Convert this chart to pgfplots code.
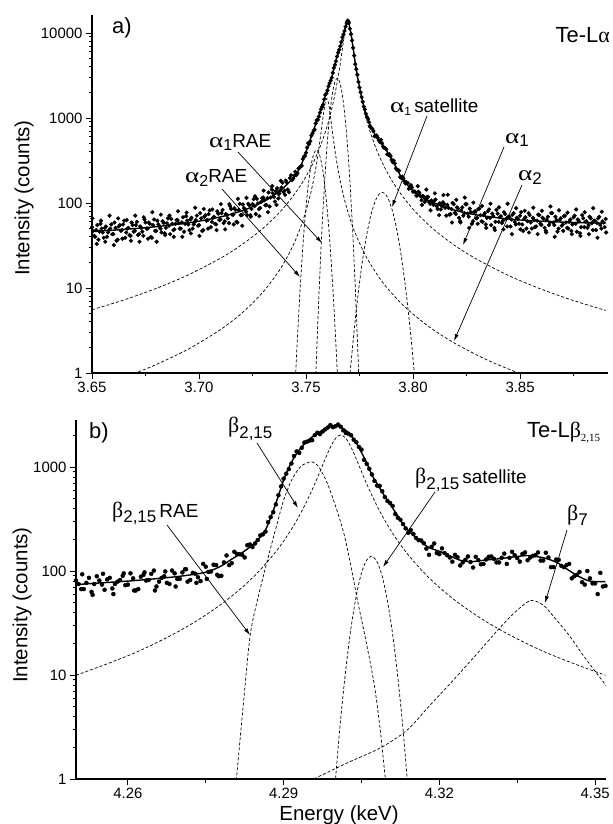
\documentclass[border=0pt]{standalone}
\usepackage{fontspec}
\setmainfont{Liberation Sans}
\newfontfamily\grk{Liberation Serif}
\usepackage{graphicx}
\usepackage{pgfplots}
\pgfplotsset{compat=1.18}
\usetikzlibrary{arrows.meta}
\newcommand{\fs}[1]{\fontsize{#1}{#1}\selectfont}
\newcommand{\lo}[2]{\raisebox{-#1}{#2}}
\newcommand{\al}{\scalebox{1.3}[1]{\fs{21}\grk α}}
\newcommand{\be}{{\fs{22}\grk β}}
\begin{document}
\begin{tikzpicture}[x=1bp,y=1bp]
\useasboundingbox (0,0) rectangle (613,-824);
% ---------------- panel a ----------------
\begin{axis}[scale only axis, ymode=log,
 axis x line=bottom, axis y line=left,
 axis line style={-, line width=1.1bp},
 tick align=outside, major tick length=6bp, minor tick length=3.5bp,
 tick style={line width=0.9bp, black},
 tick label style={font=\fs{15}},
 at={(92bp,-373bp)}, anchor=south west, width=516bp, height=358bp,
 xmin=3.65, xmax=3.8911, ymin=1, ymax=16285,
 xtick={3.65,3.70,3.75,3.80,3.85}, xticklabels={3.65,3.70,3.75,3.80,3.85},
 minor xtick={3.675,3.725,3.775,3.825,3.875},
 ytick={1,10,100,1000,10000}, yticklabels={1,10,100,1000,10000},
 minor ytick={2,3,4,5,6,7,8,9,20,30,40,50,60,70,80,90,200,300,400,500,600,700,800,900,2000,3000,4000,5000,6000,7000,8000,9000}]
% fit
\addplot[black, line width=1.4bp, smooth] coordinates {(3.650,46.2)(3.660,47.9)(3.670,50.0)(3.680,52.7)(3.690,56.2)(3.700,61.1)(3.710,68.6)(3.715,74)(3.720,80.9)(3.725,90.3)(3.730,103.6)(3.734,118.8)(3.738,140.6)(3.741,164)(3.744,198)(3.746,231)(3.748,290)(3.750,400)(3.752,560)(3.754,780)(3.756,1050)(3.758,1500)(3.760,2150)(3.762,3000)(3.764,4800)(3.766,7000)(3.768,10800)(3.7695,14000)(3.771,9900)(3.772,6670)(3.773,4456)(3.774,3117)(3.776,1737)(3.778,1121)(3.780,815)(3.783,597)(3.786,476)(3.790,329)(3.795,194)(3.801,132)(3.809,102)(3.819,83)(3.829,73)(3.844,65)(3.859,61.2)(3.874,59.1)(3.890,57.9)};
% data
\addplot[only marks, mark=*, mark size=1.9bp, black] coordinates {
(3.650,52)(3.651,41)(3.652,48)(3.653,37)(3.654,57)(3.655,45)(3.656,51)(3.657,40)(3.658,48)(3.659,56)(3.660,43)(3.661,51)(3.662,37)(3.663,55)(3.664,48)(3.665,62)(3.666,45)(3.667,51)(3.668,41)(3.669,55)(3.670,47)(3.671,60)(3.672,43)(3.673,51)(3.674,41)(3.675,59)(3.676,50)(3.677,57)(3.678,39)(3.679,64)(3.680,47)(3.681,56)(3.682,50)(3.683,61)(3.684,44)(3.685,58)(3.686,54)(3.687,65)(3.688,48)(3.689,57)(3.690,63)(3.691,50)(3.692,59)(3.693,46)(3.694,70)(3.695,56)(3.696,64)(3.697,50)(3.698,60)(3.699,71)(3.700,55)(3.701,66)(3.702,48)(3.703,72)(3.704,63)(3.705,82)(3.706,60)(3.707,69)(3.708,56)(3.709,75)(3.710,64)(3.711,83)(3.712,61)(3.713,72)(3.714,58)(3.715,85)(3.716,73)(3.717,83)(3.718,59)(3.719,98)(3.720,72)(3.721,87)(3.722,79)(3.723,98)(3.724,72)(3.725,97)(3.726,92)(3.727,112)(3.728,85)(3.729,103)(3.730,116)(3.731,94)(3.732,114)(3.733,91)(3.734,144)(3.735,118)(3.736,139)(3.737,113)(3.738,141)(3.739,173)(3.740,140)(3.741,174)(3.742,134)(3.743,212)(3.744,194)(3.745,233)(3.746,224)(3.747,261)(3.748,274)(3.749,351)(3.750,391)(3.751,505)(3.752,534)(3.753,662)(3.754,728)(3.755,945)(3.756,1040)(3.757,1269)(3.758,1437)(3.759,1869)(3.760,2111)(3.761,2570)(3.762,2970)(3.763,3883)(3.764,4656)(3.765,5869)(3.766,6986)(3.767,8961)(3.768,10562)(3.769,13039)(3.7695,14000)(3.770,13158)(3.771,9702)(3.772,6703)(3.773,4300)(3.774,3226)(3.775,2282)(3.776,1760)(3.777,1362)(3.778,1121)(3.779,977)(3.780,801)(3.781,745)(3.782,609)(3.783,625)(3.784,546)(3.785,554)(3.786,462)(3.787,441)(3.788,374)(3.789,374)(3.790,321)(3.791,316)(3.792,255)(3.793,243)(3.794,202)(3.795,204)(3.796,180)(3.797,175)(3.798,147)(3.799,162)(3.800,136)
(3.801,135)(3.802,123)(3.803,131)(3.804,108)(3.805,119)(3.806,110)(3.807,118)(3.808,98)(3.809,103)(3.810,106)(3.811,92)(3.812,97)(3.813,84)(3.814,102)(3.815,88)(3.816,95)(3.817,73)(3.818,85)(3.819,97)(3.820,74)(3.821,86)(3.822,61)(3.823,89)(3.824,76)(3.825,97)(3.826,69)(3.827,78)(3.828,61)(3.829,80)(3.830,67)(3.831,86)(3.832,61)(3.833,72)(3.834,56)(3.835,80)(3.836,67)(3.837,75)(3.838,51)(3.839,83)(3.840,60)(3.841,70)(3.842,62)(3.843,74)(3.844,53)(3.845,69)(3.846,64)(3.847,76)(3.848,56)(3.849,65)(3.850,71)(3.851,56)(3.852,65)(3.853,50)(3.854,76)(3.855,59)(3.856,67)(3.857,52)(3.858,62)(3.859,72)(3.860,55)(3.861,65)(3.862,47)(3.863,69)(3.864,59)(3.865,76)(3.866,55)(3.867,63)(3.868,50)(3.869,66)(3.870,56)(3.871,71)(3.872,51)(3.873,60)(3.874,47)(3.875,68)(3.876,57)(3.877,64)(3.878,44)(3.879,72)(3.880,52)(3.881,61)(3.882,55)(3.883,66)(3.884,48)(3.885,62)(3.886,58)(3.887,69)(3.888,50)(3.889,59)(3.890,65)
(3.6505,47)(3.6515,40)(3.6525,55)(3.6535,46)(3.6545,50)(3.6555,39)(3.6565,53)(3.6575,45)(3.6585,50)(3.6595,43)(3.6605,59)(3.6615,36)(3.6625,53)(3.6635,47)(3.6645,56)(3.6655,39)(3.6665,50)(3.6675,42)(3.6685,59)(3.6695,46)(3.6705,55)(3.6715,42)(3.6725,53)(3.6735,46)(3.6745,64)(3.6755,50)(3.6765,59)(3.6775,40)(3.6785,55)(3.6795,47)(3.6805,62)(3.6815,53)(3.6825,45)(3.6835,58)(3.6845,51)(3.6855,66)(3.6865,43)(3.6875,57)(3.6885,49)(3.6895,63)(3.6905,58)(3.6915,50)(3.6925,68)(3.6935,57)(3.6945,62)(3.6955,48)(3.6965,67)(3.6975,56)(3.6985,63)(3.6995,54)(3.7005,76)(3.7015,47)(3.7025,69)(3.7035,62)(3.7045,74)(3.7055,52)(3.7065,67)(3.7075,57)(3.7085,80)(3.7095,63)(3.7105,76)(3.7115,58)(3.7125,74)(3.7135,66)(3.7145,92)(3.7155,73)(3.7165,87)(3.7175,60)(3.7185,83)(3.7195,72)(3.7205,96)(3.7215,84)(3.7225,72)(3.7235,94)(3.7245,85)(3.7255,111)(3.7265,74)(3.7275,99)(3.7285,87)(3.7295,114)(3.7305,108)(3.7315,95)(3.7325,133)(3.7335,116)(3.7345,130)(3.7355,104)(3.7365,149)(3.7375,129)(3.7385,152)(3.7395,135)(3.7405,184)(3.7415,144)(3.7425,196)(3.7435,186)
(3.7445,210)(3.7455,213)(3.7465,254)(3.7475,268)(3.7485,330)(3.7495,358)(3.7505,449)(3.7515,495)(3.7525,620)(3.7535,703)(3.7545,863)(3.7555,953)(3.7565,1157)(3.7575,1355)(3.7585,1660)(3.7595,1947)(3.7605,2365)(3.7615,2750)(3.7625,3400)(3.7635,4230)(3.7645,5300)(3.7655,6340)(3.7665,7850)(3.7675,9650)(3.7685,11900)(3.7692,13500)(3.7698,13700)(3.7705,11250)(3.7715,8170)(3.7725,5430)(3.7735,3750)(3.7745,2660)(3.7755,2010)(3.7765,1550)(3.7775,1262)(3.7785,1025)(3.7795,888)(3.7805,765)(3.7815,702)(3.7825,615)(3.7835,585)(3.7845,520)(3.7855,503)(3.7865,446)(3.7875,428)(3.7885,370)(3.7895,356)(3.7905,302)(3.7915,293)(3.7925,246)(3.7935,240)(3.7945,197)(3.7955,195)(3.7965,170)(3.7975,172)(3.7985,149)(3.7995,152)
(3.8005,137)(3.8015,122)(3.8025,136)(3.8035,120)(3.8045,121)(3.8055,103)(3.8065,117)(3.8075,103)(3.8085,107)(3.8095,95)(3.8105,110)(3.8115,85)(3.8125,99)(3.8135,92)(3.8145,98)(3.8155,71)(3.8165,88)(3.8175,74)(3.8185,100)(3.8195,77)(3.8205,89)(3.8215,67)(3.8225,82)(3.8235,71)(3.8245,97)(3.8255,75)(3.8265,86)(3.8275,57)(3.8285,78)(3.8295,66)(3.8305,85)(3.8315,72)(3.8325,60)(3.8335,76)(3.8345,67)(3.8355,84)(3.8365,55)(3.8375,70)(3.8385,60)(3.8395,75)(3.8405,68)(3.8415,58)(3.8425,78)(3.8435,65)(3.8445,69)(3.8455,53)(3.8465,73)(3.8475,60)(3.8485,67)(3.8495,57)(3.8505,78)(3.8515,47)(3.8525,68)(3.8535,61)(3.8545,72)(3.8555,50)(3.8565,63)(3.8575,53)(3.8585,73)(3.8595,57)(3.8605,67)(3.8615,51)(3.8625,63)(3.8635,55)(3.8645,76)(3.8655,59)(3.8665,69)(3.8675,46)(3.8685,63)(3.8695,54)(3.8705,70)(3.8715,59)(3.8725,50)(3.8735,64)(3.8745,56)(3.8755,71)(3.8765,46)(3.8775,61)(3.8785,52)(3.8795,66)(3.8805,60)(3.8815,51)(3.8825,69)(3.8835,58)(3.8845,62)(3.8855,48)(3.8865,66)(3.8875,55)(3.8885,61)(3.8895,52)
(3.6502,66)(3.6522,33)(3.6542,62)(3.6562,35)(3.6582,71)(3.6602,32)(3.6622,66)(3.6642,38)(3.6662,63)(3.6682,36)(3.6702,71)(3.6722,35)(3.6742,68)(3.6762,38)(3.6782,78)(3.6802,35)(3.6822,73)(3.6842,42)(3.6862,71)(3.6882,40)(3.6902,80)(3.6922,40)(3.6942,77)(3.6962,44)(3.6982,88)(3.7002,41)(3.7022,85)(3.7042,50)(3.7062,84)(3.7082,48)(3.7102,97)(3.7122,49)(3.7142,97)(3.7162,56)(3.7182,112)(3.7202,54)(3.7222,115)(3.7242,69)(3.7262,120)(3.7282,70)(3.7302,140)(3.7322,78)(3.7342,158)(3.7362,95)(3.7382,183)(3.7402,125)
(3.8022,158)(3.8042,95)(3.8062,144)(3.8082,82)(3.8102,130)(3.8122,72)(3.8142,124)(3.8162,125)(3.8182,59)(3.8202,109)(3.8222,59)(3.8242,116)(3.8262,51)(3.8282,101)(3.8302,57)(3.8322,92)(3.8342,51)(3.8362,98)(3.8382,48)(3.8402,89)(3.8422,49)(3.8442,98)(3.8462,43)(3.8482,87)(3.8502,49)(3.8522,81)(3.8542,45)(3.8562,88)(3.8582,43)(3.8602,81)(3.8622,45)(3.8642,91)(3.8662,40)(3.8682,82)(3.8702,47)(3.8722,77)(3.8742,43)(3.8762,84)(3.8782,41)(3.8802,78)(3.8822,43)(3.8842,87)(3.8862,39)(3.8882,79)(3.8902,45)};
% components
\addplot[black, line width=0.7bp, dash pattern=on 3bp off 2bp, smooth] coordinates {(3.650,5.55)(3.665,7.25)(3.680,9.89)(3.695,14.27)(3.710,22.4)(3.720,32.3)(3.730,50.6)(3.738,79.4)(3.744,121)(3.749,186)(3.753,285)(3.756,421)(3.759,682)(3.761,1013)(3.763,1643)(3.765,3023)(3.766,4352)(3.767,6535)(3.768,9754)(3.769,12941)(3.7695,13492)(3.770,12941)(3.771,9754)(3.772,6535)(3.773,4352)(3.774,3023)(3.776,1643)(3.778,1013)(3.780,682)(3.783,421)(3.786,285)(3.790,186)(3.795,121)(3.801,79.4)(3.809,50.6)(3.819,32.3)(3.829,22.4)(3.844,14.27)(3.859,9.89)(3.874,7.25)(3.890,5.45)};
\addplot[black, line width=0.7bp, dash pattern=on 3bp off 2bp, smooth] coordinates {(3.665,0.892)(3.672,1.04)(3.680,1.258)(3.695,1.91)(3.710,3.24)(3.720,5.06)(3.730,9.02)(3.738,16.8)(3.744,31.8)(3.748,56.5)(3.751,99.5)(3.753,161)(3.755,299)(3.757,667)(3.758,1054)(3.759,1541)(3.7597,1700)(3.7605,1498)(3.7615,1008)(3.763,513)(3.765,244)(3.768,109)(3.772,51.3)(3.778,23.6)(3.786,11.5)(3.796,6.05)(3.808,3.43)(3.820,2.20)(3.835,1.41)(3.851,0.96)(3.860,0.795)};
\addplot[black, line width=0.7bp, dash pattern=on 3bp off 2bp, smooth] coordinates {(3.7541,0.43)(3.7546,0.98)(3.7556,4.49)(3.7566,17.5)(3.7576,58)(3.7586,164)(3.7596,397)(3.7606,815)(3.7616,1426)(3.7626,2128)(3.7636,2705)(3.7646,2930)(3.7656,2705)(3.7666,2128)(3.7676,1426)(3.7686,815)(3.7696,397)(3.7706,164)(3.7716,58)(3.7726,17.5)(3.7736,4.49)(3.7746,0.98)(3.7751,0.43)};
\addplot[black, line width=0.7bp, dash pattern=on 3bp off 2bp, smooth] coordinates {(3.7449,0.68)(3.7454,1.28)(3.7459,2.31)(3.7469,6.9)(3.7479,18.1)(3.7489,41.7)(3.7499,84.4)(3.7509,150)(3.7519,236)(3.7529,325)(3.7539,394)(3.7549,420)(3.7559,394)(3.7569,325)(3.7579,236)(3.7589,150)(3.7599,84.4)(3.7609,41.7)(3.7619,18.1)(3.7629,6.9)(3.7639,2.31)(3.7644,1.28)(3.7649,0.68)};
\addplot[black, line width=0.7bp, dash pattern=on 3bp off 2bp, smooth] coordinates {(3.7696,0.51)(3.7706,1.0)(3.7726,3.38)(3.7746,9.6)(3.7766,22.9)(3.7786,45.8)(3.7806,77.3)(3.7826,109)(3.7841,127)(3.7856,133)(3.7871,127)(3.7886,109)(3.7906,77.3)(3.7926,45.8)(3.7946,22.9)(3.7966,9.6)(3.7986,3.38)(3.8006,1.0)(3.8016,0.51)};
\end{axis}
% ---------------- panel b ----------------
\begin{axis}[scale only axis, ymode=log,
 axis x line=bottom, axis y line=left,
 axis line style={-, line width=1.1bp},
 tick align=outside, major tick length=6bp, minor tick length=3.5bp,
 tick style={line width=0.9bp, black},
 tick label style={font=\fs{15}},
 at={(76bp,-779bp)}, anchor=south west, width=530bp, height=359bp,
 xmin=4.25, xmax=4.3521, ymin=1, ymax=2831,
 xtick={4.26,4.29,4.32,4.35}, xticklabels={4.26,4.29,4.32,4.35},
 minor xtick={4.275,4.305,4.335},
 ytick={1,10,100,1000}, yticklabels={1,10,100,1000},
 minor ytick={2,3,4,5,6,7,8,9,20,30,40,50,60,70,80,90,200,300,400,500,600,700,800,900,2000}]
\addplot[only marks, mark=*, mark size=2bp, black] coordinates {
(4.250,81)(4.251,67)(4.252,77)(4.253,63)(4.254,89)(4.255,74)(4.256,83)(4.257,68)(4.258,79)(4.259,90)(4.260,74)(4.261,85)(4.262,67)(4.263,92)(4.264,82)(4.265,101)(4.266,79)(4.267,89)(4.268,75)(4.269,95)(4.270,84)(4.271,104)(4.272,82)(4.273,94)(4.274,80)(4.275,110)(4.276,99)(4.277,114)(4.278,90)(4.279,141)(4.280,119)(4.281,146)(4.282,143)(4.283,177)(4.284,170)(4.285,198)(4.286,225)(4.287,295)(4.288,368)(4.289,535)(4.290,773)(4.291,954)(4.292,1275)(4.293,1367)(4.294,1719)(4.295,1793)(4.296,2023)(4.297,2072)(4.298,2300)(4.299,2534)(4.300,2467)(4.301,2436)(4.302,2120)(4.303,2018)(4.304,1731)(4.305,1470)(4.306,1072)(4.307,848)(4.308,663)(4.309,585)(4.310,471)(4.311,422)(4.312,325)(4.313,283)(4.314,233)(4.315,227)(4.316,198)(4.317,185)(4.318,143)(4.319,184)(4.320,145)(4.321,149)(4.322,135)(4.323,143)(4.324,113)(4.325,128)(4.326,122)(4.327,137)(4.328,116)(4.329,129)(4.330,138)(4.331,121)(4.332,134)(4.333,117)(4.334,153)(4.335,133)(4.336,146)(4.337,127)(4.338,140)(4.339,151)(4.340,126)(4.341,135)(4.342,109)(4.343,128)(4.344,109)(4.345,117)(4.346,89)(4.347,98)(4.348,74)(4.349,85)(4.350,76)(4.351,96)(4.352,72)
(4.2505,75)(4.2515,67)(4.2525,86)(4.2535,75)(4.2545,81)(4.2555,66)(4.2565,86)(4.2575,75)(4.2585,82)(4.2595,73)(4.2605,95)(4.2615,65)(4.2625,88)(4.2635,81)(4.2645,94)(4.2655,71)(4.2665,86)(4.2675,77)(4.2685,101)(4.2695,84)(4.2705,97)(4.2715,79)(4.2725,96)(4.2735,87)(4.2745,117)(4.2755,98)(4.2765,115)(4.2775,89)(4.2785,121)(4.2795,114)(4.2805,153)(4.2815,145)(4.2825,135)(4.2835,180)(4.2845,184)(4.2855,220)(4.2865,239)(4.2875,330)(4.2885,437)(4.2895,651)(4.2905,863)(4.2915,1081)(4.2925,1411)(4.2935,1532)(4.2945,1753)(4.2955,1812)(4.2965,2137)(4.2975,2195)(4.2985,2396)(4.2995,2413)(4.3005,2560)(4.3015,2250)(4.3025,2090)(4.3035,1829)(4.3045,1560)(4.3055,1169)(4.3065,962)(4.3075,735)(4.3085,659)(4.3095,514)(4.3105,451)(4.3115,353)(4.3125,311)(4.3135,257)(4.3145,247)(4.3155,208)(4.3165,197)(4.3175,164)(4.3185,171)(4.3195,149)(4.3205,165)(4.3215,142)(4.3225,123)(4.3235,136)(4.3245,121)(4.3255,138)(4.3265,108)(4.3275,127)(4.3285,117)(4.3295,137)(4.3305,131)(4.3315,121)(4.3325,147)(4.3335,134)(4.3345,142)(4.3355,123)(4.3365,151)(4.3375,135)(4.3385,142)(4.3395,126)(4.3405,150)(4.3415,109)(4.3425,129)(4.3435,112)(4.3445,114)(4.3455,85)(4.3465,92)(4.3475,78)(4.3485,100)(4.3495,76)(4.3505,60)(4.3515,71)
(4.2512,93)(4.2532,59)(4.2552,94)(4.2572,60)(4.2592,95)(4.2612,65)(4.2632,97)(4.2652,65)(4.2672,99)(4.2692,71)(4.2712,104)(4.2732,77)(4.2752,84)(4.2772,92)};
\addplot[black, line width=1.4bp, smooth] coordinates {(4.250,74)(4.255,77)(4.260,80)(4.265,84)(4.270,89)(4.274,95)(4.276,101)(4.278,112)(4.280,130)(4.282,150)(4.284,178)(4.286,225)(4.287,282)(4.288,380)(4.289,532)(4.290,750)(4.291,990)(4.292,1230)(4.293,1460)(4.294,1670)(4.295,1860)(4.296,2030)(4.297,2180)(4.298,2310)(4.299,2430)(4.300,2510)(4.301,2420)(4.302,2250)(4.303,2000)(4.304,1700)(4.305,1380)(4.306,1096)(4.307,840)(4.308,692)(4.309,571)(4.310,479)(4.311,403)(4.312,337)(4.313,282)(4.314,245)(4.316,199)(4.318,168)(4.320,155)(4.322,140)(4.324,127)(4.326,123)(4.328,126)(4.330,129)(4.332,132)(4.334,136)(4.337,141)(4.339,137)(4.341,130)(4.343,118)(4.345,101)(4.347,88)(4.349,80)(4.352,79)};
\addplot[black, line width=0.7bp, dash pattern=on 3bp off 2bp, smooth] coordinates {(4.250,9.95)(4.256,12.8)(4.262,16.9)(4.268,23.6)(4.273,32.6)(4.278,48.0)(4.282,69.5)(4.285,96.7)(4.288,143)(4.290,194)(4.292,277)(4.294,421)(4.296,688)(4.298,1193)(4.299,1548)(4.300,1884)(4.301,2031)(4.302,1884)(4.303,1548)(4.304,1193)(4.306,688)(4.308,421)(4.310,277)(4.312,194)(4.314,143)(4.317,96.7)(4.320,69.5)(4.324,48.0)(4.329,32.6)(4.334,23.6)(4.340,16.9)(4.346,12.8)(4.352,9.95)};
\addplot[black, line width=0.7bp, dash pattern=on 3bp off 2bp, smooth] coordinates {(4.2805,0.7)(4.2809,1.0)(4.2822,5)(4.2836,25)(4.2855,68)(4.2874,160)(4.2887,280)(4.2900,480)(4.2916,760)(4.2932,1000)(4.2944,1090)(4.2955,1120)(4.2968,1000)(4.2984,700)(4.3000,420)(4.3016,230)(4.3029,115)(4.3042,53)(4.3058,22)(4.3074,8.4)(4.3085,3.3)(4.3096,1.0)(4.3100,0.7)};
\addplot[black, line width=0.7bp, dash pattern=on 3bp off 2bp, smooth] coordinates {(4.2998,0.65)(4.3000,1.0)(4.3009,3.4)(4.3019,10.5)(4.3029,26.7)(4.3039,54.9)(4.3049,92)(4.3059,125)(4.3069,139)(4.3079,125)(4.3089,92)(4.3099,54.9)(4.3109,26.7)(4.3119,10.5)(4.3129,3.4)(4.3138,1.0)(4.3141,0.65)};
\addplot[black, line width=0.7bp, dash pattern=on 3bp off 2bp, smooth] coordinates {(4.2950,0.95)(4.2958,1.0)(4.3020,1.41)(4.3087,2.0)(4.3138,2.96)(4.3180,5.0)(4.3221,8.3)(4.3270,15.5)(4.3318,29)(4.3350,42)(4.3376,52)(4.3400,47)(4.3421,36)(4.3450,24)(4.3479,15)(4.3523,7.7)};
\end{axis}
% ---------------- text ----------------
\node[rotate=90, font=\fs{20.5}] at (24,-198) {Intensity (counts)};
\node[rotate=90, font=\fs{20.5}] at (22,-605) {Intensity (counts)};
\node[anchor=base, font=\fs{20.5}, inner sep=0] at (339,-820) {Energy (keV)};
\node[anchor=base west, font=\fs{22}, inner sep=0] at (112,-33) {a)};
\node[anchor=base east, font=\fs{22}, inner sep=0] at (610,-42) {Te-L{\grk α}};
\node[anchor=base west, font=\fs{22}, inner sep=0] at (89,-438) {b)};
\node[anchor=base west, font=\fs{22}, inner sep=0] at (527,-437) {Te-L{\grk β}\lo{4bp}{\fs{11}\grk 2,15}};
\node[anchor=base west, inner sep=0, font=\fs{19}] at (209,-147) {\al\lo{3bp}{\fs{16}1}RAE};
\node[anchor=base west, inner sep=0, font=\fs{19}] at (185,-182) {\al\lo{4bp}{\fs{16}2}RAE};
\node[anchor=base west, inner sep=0, font=\fs{19}] at (390,-112) {\al\lo{3bp}{\fs{12}1}\,satellite};
\node[anchor=base west, inner sep=0, font=\fs{19}] at (505,-143) {\al\lo{3bp}{\fs{17}1}};
\node[anchor=base west, inner sep=0, font=\fs{19}] at (518,-180) {\al\lo{4bp}{\fs{17}2}};
\node[anchor=base west, inner sep=0, font=\fs{19}] at (228,-432) {\be\lo{6bp}{\fs{17}2,15}};
\node[anchor=base west, inner sep=0, font=\fs{19}] at (112,-517) {\be\lo{5bp}{\fs{17}2,15}\,RAE};
\node[anchor=base west, inner sep=0, font=\fs{19}] at (415,-483) {\be\lo{6bp}{\fs{17}2,15}\,satellite};
\node[anchor=base west, inner sep=0, font=\fs{19}] at (567,-520) {\be\lo{5bp}{\fs{17}7}};
\draw[-{Latex[length=7bp,width=4bp]}, line width=0.7bp] (238,-152) -- (322,-243);
\draw[-{Latex[length=7bp,width=4bp]}, line width=0.7bp] (222,-189) -- (300,-277);
\draw[-{Latex[length=7bp,width=4bp]}, line width=0.7bp] (427,-116) -- (392,-207);
\draw[-{Latex[length=7bp,width=4bp]}, line width=0.7bp] (504,-147) -- (463,-245);
\draw[-{Latex[length=7bp,width=4bp]}, line width=0.7bp] (522,-185) -- (454,-341);
\draw[-{Latex[length=7bp,width=4bp]}, line width=0.7bp] (257,-443) -- (298,-508);
\draw[-{Latex[length=7bp,width=4bp]}, line width=0.7bp] (167,-525) -- (250,-635);
\draw[-{Latex[length=7bp,width=4bp]}, line width=0.7bp] (435,-492) -- (383,-567);
\draw[-{Latex[length=7bp,width=4bp]}, line width=0.7bp] (567,-530) -- (545,-603);
\end{tikzpicture}
\end{document}
